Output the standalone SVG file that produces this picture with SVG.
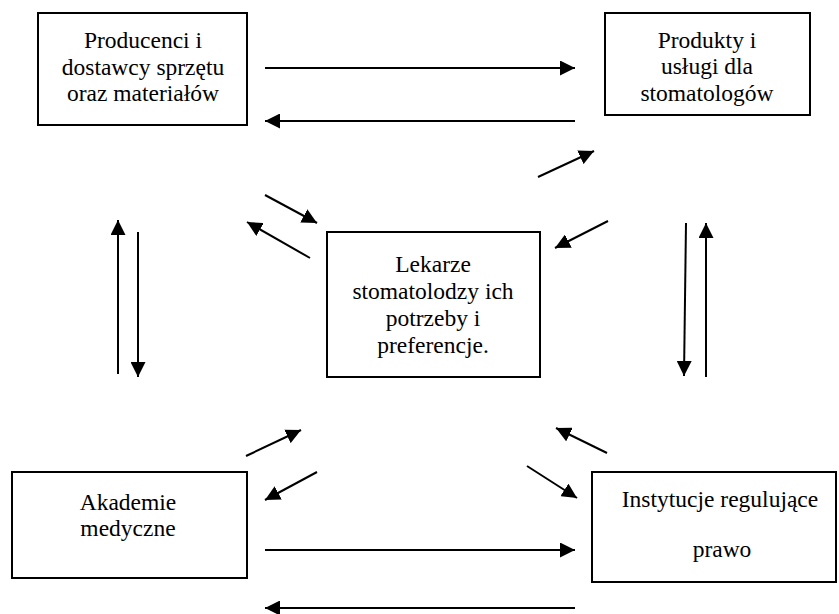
<svg xmlns="http://www.w3.org/2000/svg" width="839" height="614" viewBox="0 0 839 614">
  <style>
    .box { fill: #fff; stroke: #000; stroke-width: 2; }
    .arr { stroke: #000; stroke-width: 2; fill: none; marker-end: url(#head); }
  </style>
  <defs>
    <marker id="head" viewBox="0 0 10 10" refX="10" refY="5" markerWidth="15" markerHeight="15" markerUnits="userSpaceOnUse" orient="auto">
      <path d="M0,0 L10,5 L0,10 Z" fill="#000"/>
    </marker>
  </defs>
  <rect width="839" height="614" fill="#fff"/>

  <g font-family="'Liberation Serif', 'Times New Roman', serif" font-size="23.5" text-anchor="middle" fill="#000">
    <g id="producenci">
      <rect class="box" x="38" y="13" width="209" height="112"/>
      <text x="143" y="48">Producenci i</text>
      <text x="143" y="75">dostawcy sprzętu</text>
      <text x="143" y="101">oraz materiałów</text>
    </g>

    <g id="produkty">
      <rect class="box" x="605" y="13" width="205" height="102"/>
      <text x="707" y="48">Produkty i</text>
      <text x="707" y="74">usługi dla</text>
      <text x="707" y="101">stomatologów</text>
    </g>

    <g id="lekarze">
      <rect class="box" x="327" y="232" width="213" height="145"/>
      <text x="433" y="272">Lekarze</text>
      <text x="433" y="299">stomatolodzy ich</text>
      <text x="433" y="326">potrzeby i</text>
      <text x="433" y="353">preferencje.</text>
    </g>

    <g id="akademie">
      <rect class="box" x="12" y="472" width="235" height="106"/>
      <text x="128" y="510">Akademie</text>
      <text x="128" y="536">medyczne</text>
    </g>

    <g id="instytucje">
      <rect class="box" x="592" y="472" width="244" height="110"/>
      <text x="720" y="507">Instytucje regulujące</text>
      <text x="722" y="557">prawo</text>
    </g>
  </g>

  <g id="connectors">
    <!-- top pair -->
    <line class="arr" x1="265" y1="68" x2="575" y2="68"/>
    <line class="arr" x1="575" y1="121" x2="265" y2="121"/>
    <!-- bottom pair -->
    <line class="arr" x1="265" y1="550" x2="575" y2="550"/>
    <line class="arr" x1="575" y1="608" x2="265" y2="608"/>
    <!-- left vertical pair -->
    <line class="arr" x1="118" y1="374" x2="118" y2="220"/>
    <line class="arr" x1="138" y1="232" x2="138" y2="377"/>
    <!-- right vertical pair -->
    <line class="arr" x1="686" y1="223" x2="684" y2="376"/>
    <line class="arr" x1="706" y1="377" x2="706" y2="223"/>
    <!-- diagonals around the centre box -->
    <line class="arr" x1="265" y1="195" x2="317" y2="223"/>
    <line class="arr" x1="310" y1="258" x2="247" y2="222"/>
    <line class="arr" x1="538" y1="177" x2="594" y2="151"/>
    <line class="arr" x1="608" y1="221" x2="555" y2="248"/>
    <line class="arr" x1="246" y1="456" x2="301" y2="430"/>
    <line class="arr" x1="317" y1="472" x2="265" y2="500"/>
    <line class="arr" x1="607" y1="453" x2="556" y2="428"/>
    <line class="arr" x1="527" y1="466" x2="577" y2="498"/>
  </g>
</svg>
